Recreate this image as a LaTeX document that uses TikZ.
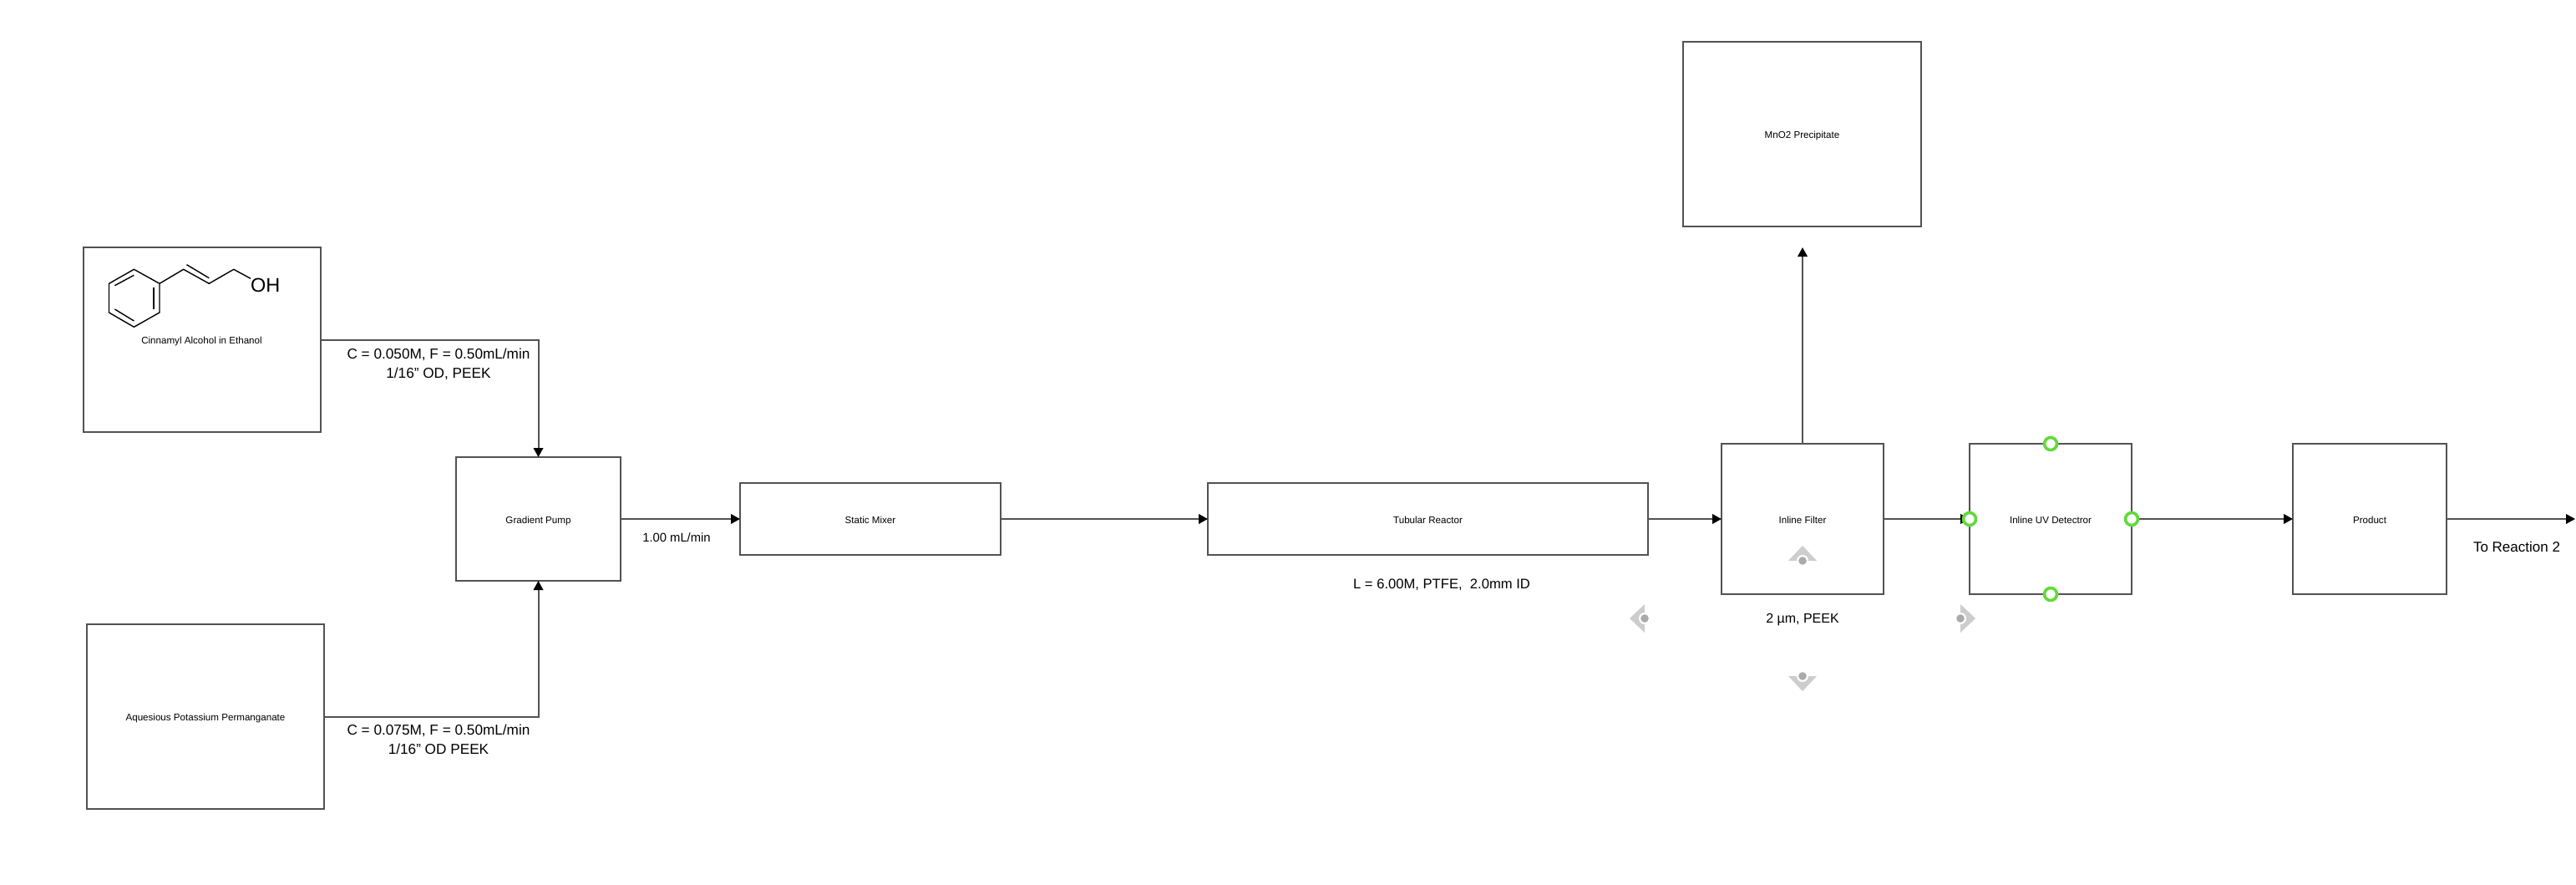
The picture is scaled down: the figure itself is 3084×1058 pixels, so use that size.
\documentclass[tikz,border=0pt]{standalone}
\usepackage{fontspec}
\setmainfont{Liberation Sans}
\usetikzlibrary{arrows.meta}

\tikzset{
    procbox/.style={shape=rectangle,draw=black!68,line width=2pt,outer sep=0pt,text height=10.5pt,text depth=0pt,font=\fontsize{11.6}{14}\selectfont},
    flowline/.style={draw=black!68,line width=2pt,-{Triangle[length=11pt,width=11.5pt,color=black]}},
    linklabel/.style={align=center,font=\fontsize{#1}{23}\selectfont},
    linklabel/.default=17.2,
    smalllabel/.style={text height=10.5pt,text depth=0pt,font=\fontsize{11.6}{14}\selectfont},
    molbond/.style={line width=1.4pt,line join=miter},
    portring/.style={shape=circle,draw=flow_ring,line width=3.6pt,fill=white,minimum size=15pt,inner sep=0pt}
}

\begin{document}
\begin{tikzpicture}[x=1pt,y=-1pt]
    \definecolor{flow_ring}{RGB}{98,218,60}
    \definecolor{hover_arrow}{RGB}{205,205,205}
    \definecolor{hover_dot}{RGB}{170,170,170}
    \useasboundingbox (0,0) rectangle (3084,1058);
    \node[procbox,minimum width=284pt,minimum height=221pt] (cinnamyl) at (242,406.5) {};
    \node[smalllabel] (cinnamyltext) at (241.5,406.5) {Cinnamyl Alcohol in Ethanol};
    \node[procbox,minimum width=284pt,minimum height=221pt] (permanganate) at (246,857.5) {Aquesious Potassium Permanganate};
    \node[procbox,minimum width=197pt,minimum height=148pt] (pump) at (644.5,621) {Gradient Pump};
    \node[procbox,minimum width=312pt,minimum height=86pt] (mixer) at (1042,621) {Static Mixer};
    \node[procbox,minimum width=527pt,minimum height=86pt] (reactor) at (1709.5,621) {Tubular Reactor};
    \node[procbox,minimum width=194pt,minimum height=180pt] (filter) at (2158,621) {Inline Filter};
    \node[procbox,minimum width=194pt,minimum height=180pt] (detector) at (2455,621) {Inline UV Detectror};
    \node[procbox,minimum width=184pt,minimum height=180pt] (product) at (2837,621) {Product};
    \node[procbox,minimum width=285pt,minimum height=221pt] (precipitate) at (2157.5,160.5) {MnO2 Precipitate};
    \coordinate (precipitatetip) at (2158,296);
    \coordinate (reactiontip) at (3083,621);
    \draw[flowline] (cinnamyl.east) -| (pump.north);
    \draw[flowline] (permanganate.east) -| (pump.south);
    \draw[flowline] (pump.east) -- (mixer.west);
    \draw[flowline] (mixer.east) -- (reactor.west);
    \draw[flowline] (reactor.east) -- (filter.west);
    \draw[flowline] (filter.east) -- (detector.west);
    \draw[flowline] (filter.north) -- (precipitatetip);
    \draw[flowline] (detector.east) -- (product.west);
    \draw[flowline] (product.east) -- (reactiontip);
    \node[linklabel] (cinnamyllabel) at (525,436) {C = 0.050M, F = 0.50mL/min\\1/16" OD, PEEK};
    \node[linklabel] (permanganatelabel) at (525,885) {C = 0.075M, F = 0.50mL/min\\1/16" OD PEEK};
    \node[linklabel=14.8] (pumplabel) at (810,643) {1.00 mL/min};
    \node[linklabel=16.6] (reactorlabel) at (1726,700) {L = 6.00M, PTFE,\ \ 2.0mm ID};
    \node[linklabel=16] (filterlabel) at (2158,742) {2 µm, PEEK};
    \node[linklabel=17] (reactionlabel) at (3013,654) {To Reaction 2};
    \node[portring] (ringwest) at (detector.west) {};
    \node[portring] (ringeast) at (detector.east) {};
    \node[portring] (ringnorth) at (detector.north) {};
    \node[portring] (ringsouth) at (detector.south) {};
    \foreach \px/\py/\ang in {2158/671/0,2158/809/180,1969/740/90,2347/740/-90} {
        \begin{scope}[shift={(\px,\py)},rotate=\ang]
            \fill[hover_arrow] (-17,0) -- (0,-18) -- (17,0) -- cycle;
            \fill[white] (0,0) circle (7pt);
            \fill[hover_dot] (0,0) circle (4.8pt);
        \end{scope}
    }
    \draw[molbond] (191,339.3) -- (160.4,322.3) -- (130.5,339.3) -- (130.5,374) -- (160.4,391.3) -- (191,374) -- cycle;
    \draw[molbond] (137.4,341.7) -- (160.4,329.3);
    \draw[molbond] (184,344) -- (184,370);
    \draw[molbond] (137.4,370) -- (160.4,384);
    \draw[molbond] (191,339.3) -- (219.7,322.3) -- (250.3,339.3) -- (279.8,322.3) -- (300,333.3);
    \draw[molbond] (223.5,316.7) -- (250.3,332.7);
    \node[font=\fontsize{23.5}{26}\selectfont] (hydroxyl) at (317.7,341) {OH};
\end{tikzpicture}
\end{document}
